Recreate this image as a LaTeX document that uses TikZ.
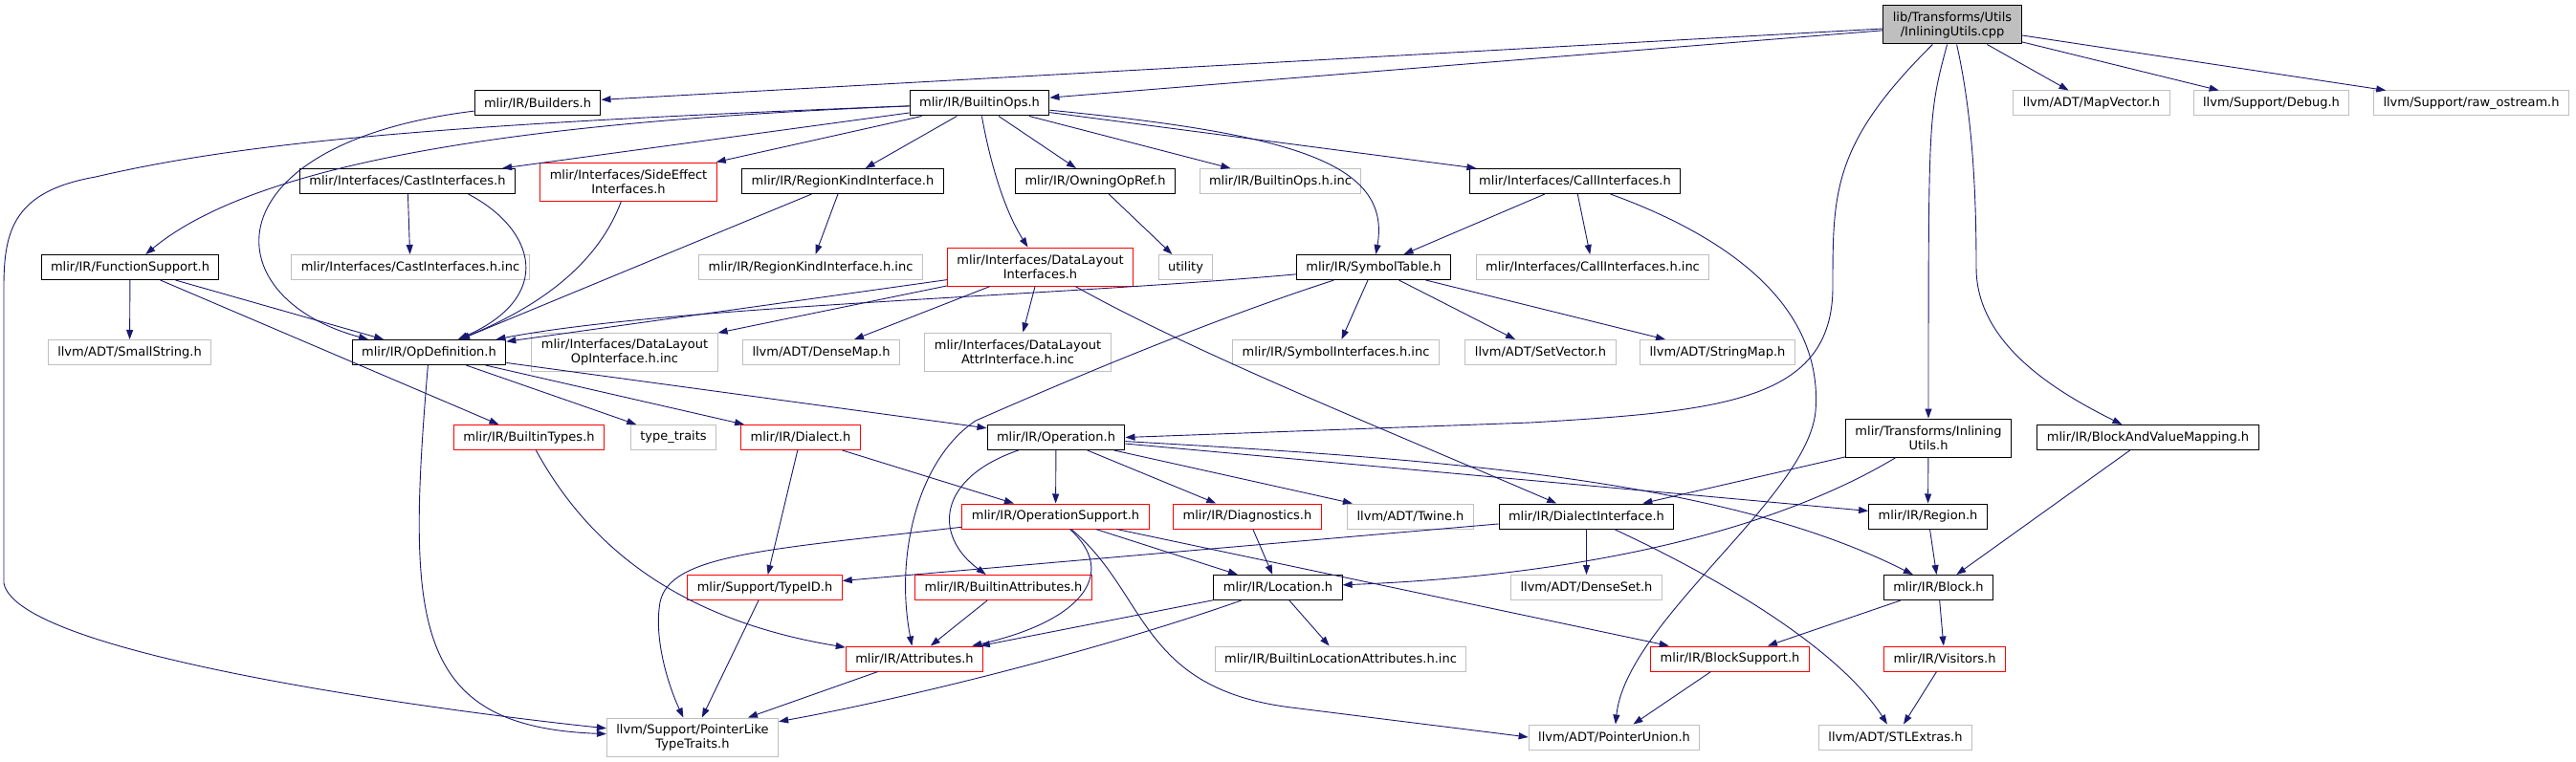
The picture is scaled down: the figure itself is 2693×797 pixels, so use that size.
\documentclass[tikz,border=0pt]{standalone}
\usepackage{fontspec}
\setmainfont{DejaVu Sans}
\usetikzlibrary{arrows.meta}
\definecolor{depblue}{HTML}{191970}
\definecolor{depred}{HTML}{FF0000}
\definecolor{depgray}{HTML}{BFBFBF}

\begin{document}
\begin{tikzpicture}[x=1pt,y=-1pt,
  box/.style={draw,line width=1pt,font=\fontsize{13}{15}\selectfont,inner xsep=10pt,inner ysep=0pt,minimum height=26pt,align=center},
  inc/.style={box,draw=black},
  trunc/.style={box,draw=depred},
  ext/.style={box,draw=depgray},
  root/.style={box,draw=black,fill=depgray},
  tall/.style={minimum height=40pt},
  dep/.style={draw=depblue,line width=0.9pt,-{Triangle[length=10pt,width=7pt]}}]
  \useasboundingbox (0,0) rectangle (2693,797);

  \node[root,tall] (main) at (2041,26) {lib/Transforms/Utils\\/InliningUtils.cpp};
  \node[inc] (builders) at (562,108) {mlir/IR/Builders.h};
  \node[inc] (builtinops) at (1024,108) {mlir/IR/BuiltinOps.h};
  \node[ext] (mapvector) at (2186.5,108) {llvm/ADT/MapVector.h};
  \node[ext] (debug) at (2374.5,108) {llvm/Support/Debug.h};
  \node[ext] (rawostream) at (2583.5,108) {llvm/Support/raw\_ostream.h};
  \node[inc] (castif) at (426,189.5) {mlir/Interfaces/CastInterfaces.h};
  \node[trunc,tall] (sideeffect) at (657,190) {mlir/Interfaces/SideEffect\\Interfaces.h};
  \node[inc] (regionkind) at (881,189.5) {mlir/IR/RegionKindInterface.h};
  \node[inc] (owning) at (1145,189.5) {mlir/IR/OwningOpRef.h};
  \node[ext] (builtinopsinc) at (1338.5,189.5) {mlir/IR/BuiltinOps.h.inc};
  \node[inc] (callif) at (1646.5,189.5) {mlir/Interfaces/CallInterfaces.h};
  \node[inc] (funcsupport) at (136,279.5) {mlir/IR/FunctionSupport.h};
  \node[ext] (castinc) at (429,279.5) {mlir/Interfaces/CastInterfaces.h.inc};
  \node[ext] (regioninc) at (847.5,279.5) {mlir/IR/RegionKindInterface.h.inc};
  \node[trunc,tall] (datalayout) at (1087.5,279) {mlir/Interfaces/DataLayout\\Interfaces.h};
  \node[ext] (utility) at (1239.5,279.5) {utility};
  \node[inc] (symboltable) at (1436,279.5) {mlir/IR/SymbolTable.h};
  \node[ext] (callinc) at (1665,279.5) {mlir/Interfaces/CallInterfaces.h.inc};
  \node[ext] (smallstring) at (135.5,368.5) {llvm/ADT/SmallString.h};
  \node[inc] (opdef) at (448.5,368.5) {mlir/IR/OpDefinition.h};
  \node[ext,tall] (dlopinc) at (653,368) {mlir/Interfaces/DataLayout\\OpInterface.h.inc};
  \node[ext] (densemap) at (858.5,368.5) {llvm/ADT/DenseMap.h};
  \node[ext,tall] (dlattrinc) at (1064,368) {mlir/Interfaces/DataLayout\\AttrInterface.h.inc};
  \node[ext] (symbolinc) at (1396.5,368.5) {mlir/IR/SymbolInterfaces.h.inc};
  \node[ext] (setvector) at (1610.5,368.5) {llvm/ADT/SetVector.h};
  \node[ext] (stringmap) at (1795.5,368.5) {llvm/ADT/StringMap.h};
  \node[trunc] (builtintypes) at (553,457.5) {mlir/IR/BuiltinTypes.h};
  \node[ext] (typetraits) at (704,457.5) {type\_traits};
  \node[trunc] (dialect) at (837,457.5) {mlir/IR/Dialect.h};
  \node[inc] (operation) at (1104,457.5) {mlir/IR/Operation.h};
  \node[inc,tall] (inlutilsh) at (2016,458) {mlir/Transforms/Inlining\\Utils.h};
  \node[inc] (bavm) at (2245.5,457.5) {mlir/IR/BlockAndValueMapping.h};
  \node[trunc] (opsupport) at (1103.5,540) {mlir/IR/OperationSupport.h};
  \node[trunc] (diagnostics) at (1304,540) {mlir/IR/Diagnostics.h};
  \node[ext] (twine) at (1474.5,540) {llvm/ADT/Twine.h};
  \node[inc] (dialectif) at (1658.5,540) {mlir/IR/DialectInterface.h};
  \node[inc] (region) at (2015.5,540) {mlir/IR/Region.h};
  \node[trunc] (typeid) at (799.5,614.5) {mlir/Support/TypeID.h};
  \node[trunc] (builtinattr) at (1049,614.5) {mlir/IR/BuiltinAttributes.h};
  \node[inc] (location) at (1336,614.5) {mlir/IR/Location.h};
  \node[ext] (denseset) at (1658.5,614.5) {llvm/ADT/DenseSet.h};
  \node[inc] (block) at (2026.5,614.5) {mlir/IR/Block.h};
  \node[trunc] (attributes) at (956,689) {mlir/IR/Attributes.h};
  \node[ext] (bilocinc) at (1401.5,689) {mlir/IR/BuiltinLocationAttributes.h.inc};
  \node[trunc] (blocksupport) at (1808.5,689) {mlir/IR/BlockSupport.h};
  \node[trunc] (visitors) at (2033,689) {mlir/IR/Visitors.h};
  \node[ext,tall] (pointerlike) at (724,771) {llvm/Support/PointerLike\\TypeTraits.h};
  \node[ext] (pointerunion) at (1687.5,771) {llvm/ADT/PointerUnion.h};
  \node[ext] (stlextras) at (1981.5,771) {llvm/ADT/STLExtras.h};

  \draw[dep] (main) -- (builders);
  \draw[dep] (main) -- (builtinops);
  \draw[dep] (main) .. controls (1916,150) and (1916,200) .. (1916,300) .. controls (1916,420) and (1800,430) .. (1600,442) -- (operation.east);
  \draw[dep] (main) .. controls (2016,120) .. (inlutilsh);
  \draw[dep] (main) .. controls (2062,120) and (2066,200) .. (2066,280) .. controls (2066,360) and (2150,410) .. (bavm);
  \draw[dep] (main) -- (mapvector);
  \draw[dep] (main) -- (debug);
  \draw[dep] (main) -- (rawostream);

  \draw[dep] (builtinops) .. controls (600,125) and (280,160) .. (funcsupport);
  \draw[dep] (builtinops) .. controls (450,130) and (250,150) .. (100,185) .. controls (15,200) and (4,240) .. (4,300) -- (4,610) .. controls (20,690) and (520,750) .. (pointerlike);
  \draw[dep] (builtinops) -- (castif);
  \draw[dep] (builtinops) -- (sideeffect);
  \draw[dep] (builtinops) -- (regionkind);
  \draw[dep] (builtinops) .. controls (1035,170) and (1050,220) .. (datalayout);
  \draw[dep] (builtinops) -- (owning);
  \draw[dep] (builtinops) -- (builtinopsinc);
  \draw[dep] (builtinops) -- (callif);
  \draw[dep] (builtinops) .. controls (1350,140) and (1455,170) .. (symboltable);

  \draw[dep] (builders) .. controls (220,150) and (220,310) .. (opdef.168);
  \draw[dep] (castif.-12) .. controls (560,240) and (580,310) .. (opdef);
  \draw[dep] (castif) -- (castinc);
  \draw[dep] (sideeffect) .. controls (620,290) and (540,330) .. (opdef);
  \draw[dep] (regionkind) -- (regioninc);
  \draw[dep] (regionkind) -- (opdef);
  \draw[dep] (funcsupport) -- (smallstring);
  \draw[dep] (funcsupport) -- (opdef);
  \draw[dep] (funcsupport) -- (builtintypes);

  \draw[dep] (opdef) .. controls (425,650) and (430,760) .. (pointerlike);
  \draw[dep] (opdef) -- (typetraits);
  \draw[dep] (opdef) -- (dialect);
  \draw[dep] (opdef) -- (operation);

  \draw[dep] (datalayout) -- (opdef);
  \draw[dep] (datalayout) -- (dlopinc);
  \draw[dep] (datalayout) -- (densemap);
  \draw[dep] (datalayout) -- (dlattrinc);
  \draw[dep] (datalayout) .. controls (1250,370) and (1450,450) .. (dialectif);
  \draw[dep] (owning) -- (utility);

  \draw[dep] (callif) -- (symboltable);
  \draw[dep] (callif) -- (callinc);
  \draw[dep] (callif) .. controls (1840,260) and (1905,340) .. (1898,430) .. controls (1890,520) and (1700,650) .. (pointerunion);

  \draw[dep] (symboltable) .. controls (1100,310) and (700,320) .. (opdef);
  \draw[dep] (symboltable) -- (symbolinc);
  \draw[dep] (symboltable) -- (setvector);
  \draw[dep] (symboltable) -- (stringmap);
  \draw[dep] (symboltable) .. controls (1250,340) and (1100,405) .. (1020,440) .. controls (960,480) and (935,580) .. (attributes);

  \draw[dep] (builtintypes) .. controls (620,580) and (720,650) .. (attributes);
  \draw[dep] (dialect) -- (typeid);
  \draw[dep] (dialect) -- (opsupport);

  \draw[dep] (operation) -- (opsupport);
  \draw[dep] (operation) .. controls (980,500) and (975,560) .. (builtinattr);
  \draw[dep] (operation) -- (diagnostics);
  \draw[dep] (operation) -- (twine);
  \draw[dep] (operation) -- (region);
  \draw[dep] (operation) .. controls (1500,480) and (1800,500) .. (block);

  \draw[dep] (opsupport) .. controls (800,575) and (700,580) .. (690,630) .. controls (683,670) and (700,720) .. (pointerlike);
  \draw[dep] (opsupport) .. controls (1170,600) and (1130,650) .. (attributes);
  \draw[dep] (opsupport) -- (location);
  \draw[dep] (opsupport) -- (blocksupport);
  \draw[dep] (opsupport) .. controls (1200,620) and (1190,720) .. (1350,740) -- (pointerunion.west);
  \draw[dep] (diagnostics) -- (location);

  \draw[dep] (dialectif) -- (typeid);
  \draw[dep] (dialectif) -- (denseset);
  \draw[dep] (dialectif) .. controls (1830,620) and (1930,690) .. (stlextras);
  \draw[dep] (typeid) -- (pointerlike);
  \draw[dep] (builtinattr) -- (attributes);
  \draw[dep] (location) -- (attributes);
  \draw[dep] (location) .. controls (1150,680) and (950,730) .. (pointerlike);
  \draw[dep] (location) -- (bilocinc);
  \draw[dep] (attributes) -- (pointerlike);

  \draw[dep] (inlutilsh) -- (dialectif);
  \draw[dep] (inlutilsh) .. controls (1880,540) and (1700,600) .. (location);
  \draw[dep] (inlutilsh) -- (region);
  \draw[dep] (bavm) -- (block);
  \draw[dep] (region) -- (block);
  \draw[dep] (block) -- (blocksupport);
  \draw[dep] (block) -- (visitors);
  \draw[dep] (visitors) -- (stlextras);
  \draw[dep] (blocksupport) -- (pointerunion);
\end{tikzpicture}
\end{document}
